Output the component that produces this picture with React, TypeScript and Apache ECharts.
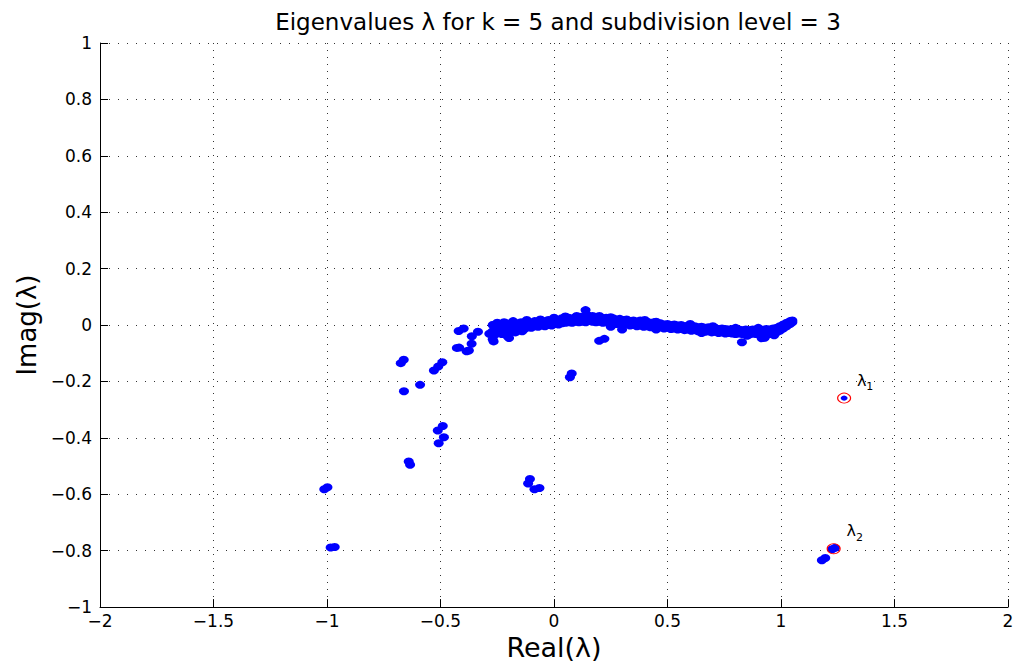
import React, { useEffect, useRef } from "react";
import * as echarts from "echarts";

const titleText = "Eigenvalues λ for k = 5 and subdivision level = 3";
const xTicks = [-2, -1.5, -1, -0.5, 0, 0.5, 1, 1.5, 2];
const yTicks = [-1, -0.8, -0.6, -0.4, -0.2, 0, 0.2, 0.4, 0.6, 0.8, 1];

// main band of eigenvalues near the real axis: [real, imag]
const bandPoints: [number, number][] = [
  [-0.27, 0.0], [-0.27, -0.022], [-0.255, -0.004], [-0.255, -0.028], [-0.24, 0.004], [-0.24, -0.018],
  [-0.225, -0.002], [-0.225, -0.026], [-0.21, 0.006], [-0.21, -0.014], [-0.19, 0.002], [-0.19, -0.02],
  [-0.175, 0.008], [-0.175, -0.012], [-0.16, 0.004], [-0.16, -0.016], [-0.145, 0.01], [-0.145, -0.01],
  [-0.13, 0.006], [-0.13, -0.014], [-0.115, 0.012], [-0.115, -0.008], [-0.1, 0.008], [-0.1, -0.01],
  [-0.085, 0.014], [-0.085, -0.004], [-0.07, 0.01], [-0.07, -0.006], [-0.055, 0.016], [-0.055, -0.002],
  [-0.04, 0.012], [-0.04, -0.004], [-0.025, 0.018], [-0.025, 0.0], [-0.01, 0.014], [-0.01, -0.002],
  [0.005, 0.02], [0.005, 0.004], [0.02, 0.018], [0.02, 0.002], [0.035, 0.024], [0.035, 0.006],
  [0.05, 0.02], [0.05, 0.008], [0.065, 0.026], [0.065, 0.01], [0.08, 0.022], [0.08, 0.008],
  [0.095, 0.028], [0.095, 0.012], [0.11, 0.024], [0.11, 0.01], [0.125, 0.03], [0.125, 0.012],
  [0.14, 0.026], [0.14, 0.01], [0.155, 0.028], [0.155, 0.014], [0.17, 0.032], [0.17, 0.012],
  [0.185, 0.026], [0.185, 0.01], [0.2, 0.028], [0.2, 0.012], [0.215, 0.024], [0.215, 0.008],
  [0.23, 0.026], [0.23, 0.01], [0.245, 0.022], [0.245, 0.006], [0.26, 0.024], [0.26, 0.008],
  [0.275, 0.02], [0.275, 0.004], [0.29, 0.022], [0.29, 0.006], [0.305, 0.018], [0.305, 0.002],
  [0.3, -0.016], [0.32, 0.02], [0.32, 0.004], [0.335, 0.014], [0.335, -0.002], [0.35, 0.016], [0.35, 0.0],
  [0.365, 0.012], [0.365, -0.004], [0.38, 0.016], [0.38, -0.002], [0.395, 0.01], [0.395, -0.006],
  [0.41, 0.012], [0.41, -0.004], [0.425, 0.008], [0.425, -0.008], [0.44, 0.01], [0.44, -0.006],
  [0.455, 0.004], [0.455, -0.01], [0.47, 0.006], [0.47, -0.008], [0.485, 0.002], [0.485, -0.012],
  [0.5, 0.004], [0.5, -0.01], [0.515, 0.0], [0.515, -0.014], [0.53, 0.002], [0.53, -0.012],
  [0.545, -0.002], [0.545, -0.016], [0.56, 0.0], [0.56, -0.014], [0.575, -0.004], [0.575, -0.018],
  [0.59, -0.002], [0.59, -0.016], [0.605, -0.006], [0.605, -0.02], [0.62, -0.004], [0.62, -0.018],
  [0.635, -0.008], [0.635, -0.022], [0.65, -0.006], [0.65, -0.02], [0.665, -0.01], [0.665, -0.024],
  [0.68, -0.008], [0.68, -0.022], [0.695, -0.012], [0.695, -0.026], [0.71, -0.01], [0.71, -0.024],
  [0.725, -0.014], [0.725, -0.028], [0.74, -0.012], [0.74, -0.026], [0.755, -0.014], [0.755, -0.03],
  [0.77, -0.016], [0.77, -0.028], [0.785, -0.014], [0.785, -0.03], [0.8, -0.018], [0.8, -0.032],
  [0.815, -0.016], [0.815, -0.03], [0.83, -0.018], [0.83, -0.032], [0.845, -0.016], [0.845, -0.03],
  [0.86, -0.018], [0.86, -0.034], [0.875, -0.016], [0.875, -0.03], [0.89, -0.018], [0.89, -0.032],
  [0.905, -0.016], [0.905, -0.03], [0.92, -0.018], [0.92, -0.034], [0.935, -0.014], [0.935, -0.03],
  [0.95, -0.016], [0.95, -0.032], [0.965, -0.012], [0.965, -0.028], [0.98, -0.01], [0.98, -0.026],
  [0.995, -0.004], [0.995, -0.02], [1.01, 0.002], [1.01, -0.012], [1.025, 0.008], [1.025, -0.004],
  [1.04, 0.014], [1.04, 0.004], [1.05, 0.016], [1.05, 0.01],
];

// extra eigenvalues that thicken the band in places
const bandLumps: [number, number][] = [
  [-0.26, -0.034], [-0.23, -0.032], [-0.2, -0.03], [-0.17, -0.026], [-0.14, -0.022], [-0.25, 0.008],
  [-0.22, 0.01], [-0.18, 0.014], [-0.12, 0.018], [-0.06, 0.02], [0.0, 0.026], [0.05, 0.03],
  [0.1, 0.032], [0.15, 0.034], [0.2, 0.032], [0.25, 0.028], [0.4, 0.018], [0.45, 0.012],
  [0.6, 0.004], [0.7, -0.004], [0.8, -0.01], [0.9, -0.01], [0.25, -0.006], [0.45, -0.016],
  [0.65, -0.028], [0.85, -0.038], [0.93, -0.04], [0.97, -0.036],
];

// scattered eigenvalues away from the band
const scatterPoints: [number, number][] = [
  [-0.42, -0.021], [-0.398, -0.012], [-0.362, -0.04], [-0.335, -0.024], [-0.285, -0.031], [-0.267, 0.0],
  [-0.363, -0.066], [-0.428, -0.081], [-0.418, -0.08], [-0.385, -0.093], [-0.375, -0.09], [-0.266, -0.058],
  [-0.27, -0.05], [-0.205, -0.04], [-0.198, -0.046],
  [-0.675, -0.135], [-0.662, -0.123], [-0.59, -0.212], [-0.661, -0.235], [-0.529, -0.161], [-0.51, -0.147],
  [-0.492, -0.132], [-0.512, -0.374], [-0.49, -0.358], [-0.485, -0.398], [-0.508, -0.419], [-0.64, -0.484],
  [-0.634, -0.495], [-1.012, -0.582], [-0.998, -0.575], [-0.106, -0.546], [-0.114, -0.562], [-0.086, -0.582],
  [-0.064, -0.578], [-0.984, -0.789], [-0.966, -0.787],
  [0.139, 0.053], [0.199, -0.056], [0.222, -0.049], [0.828, -0.061], [0.915, -0.047], [0.928, -0.045],
  [0.07, -0.185], [0.078, -0.172],
  [1.225, -0.795], [1.238, -0.79], [1.18, -0.834], [1.195, -0.826],
];

// highlighted eigenvalues lambda_1 and lambda_2
const highlightNames = ["1", "2"];
const highlightPoints: [number, number][] = [
  [1.278, -0.259],
  [1.232, -0.793],
];

const fmt = (v: number) => {
  const r = Math.round(v * 10) / 10;
  return String(r).replace("-", "\u2212");
};

const FONT = "DejaVu Sans";
const BLUE = "#0000ff";

export default function App() {
  const ref = useRef<HTMLDivElement>(null);
  useEffect(() => {
    if (!ref.current) return;
    const chart = echarts.init(ref.current, undefined, { renderer: "svg" });
    const gridLine = (dash: number[]) => ({
      show: true,
      lineStyle: { color: "#333", width: 1, type: dash },
    });
    const dotSeries = (data: [number, number][], size: number[]) => ({
      type: "scatter",
      data,
      symbol: "circle",
      symbolSize: size,
      itemStyle: { color: BLUE, opacity: 1 },
      z: 2,
    });
    chart.setOption({
      animation: false,
      backgroundColor: "#fff",
      title: {
        text: titleText,
        left: 553,
        textAlign: "center",
        top: 5,
        textStyle: { fontFamily: FONT, fontSize: 23, fontWeight: "normal", color: "#000" },
      },
      grid: { left: 100, right: 9, top: 43, bottom: 54 },
      xAxis: {
        type: "value",
        min: xTicks[0],
        max: xTicks[xTicks.length - 1],
        interval: 0.5,
        name: "Real(λ)",
        nameLocation: "middle",
        nameGap: 22,
        nameTextStyle: { fontFamily: FONT, fontSize: 27, color: "#000" },
        axisLine: { show: true, onZero: false, lineStyle: { color: "#000", width: 1 } },
        axisTick: { show: true, inside: true, length: 8, lineStyle: { color: "#000" } },
        axisLabel: { formatter: fmt, fontFamily: FONT, fontSize: 17, color: "#000", margin: 5 },
        splitLine: gridLine([1, 6]),
      },
      yAxis: {
        type: "value",
        min: yTicks[0],
        max: yTicks[yTicks.length - 1],
        interval: 0.2,
        name: "Imag(λ)",
        nameLocation: "middle",
        nameGap: 57,
        nameRotate: 90,
        nameTextStyle: { fontFamily: FONT, fontSize: 26, color: "#000" },
        axisLine: { show: true, onZero: false, lineStyle: { color: "#000", width: 1 } },
        axisTick: { show: true, inside: true, length: 8, lineStyle: { color: "#000" } },
        axisLabel: { formatter: fmt, fontFamily: FONT, fontSize: 17, color: "#000", margin: 8 },
        splitLine: gridLine([1, 8]),
      },
      series: [
        dotSeries(bandPoints, [10, 8]),
        dotSeries(bandLumps, [10, 8]),
        dotSeries(scatterPoints, [10, 8]),
        {
          type: "scatter",
          data: highlightPoints.map((p, i) => ({
            value: p,
            label: {
              show: true,
              position: "inside",
              offset: [21, -16],
              formatter: `{l|λ}{s|${highlightNames[i]}}`,
              rich: {
                l: { fontFamily: FONT, fontSize: 16, color: "#000", verticalAlign: "top", lineHeight: 20 },
                s: { fontFamily: FONT, fontSize: 11, color: "#000", verticalAlign: "bottom", lineHeight: 20, padding: [10, 0, 0, 0] },
              },
            },
          })),
          symbol: "circle",
          symbolSize: [13, 10],
          itemStyle: { color: "rgba(0,0,0,0)", borderColor: "#ff0000", borderWidth: 1, opacity: 1 },
          z: 3,
        },
        {
          type: "scatter",
          data: highlightPoints,
          symbol: "circle",
          symbolSize: [7, 5],
          itemStyle: { color: BLUE, opacity: 1 },
          z: 4,
        },
      ],
    });
    return () => chart.dispose();
  }, []);
  return (
    <div
      ref={ref}
      style={{ position: "absolute", left: 0, top: 0, width: 1017, height: 666 }}
    />
  );
}
